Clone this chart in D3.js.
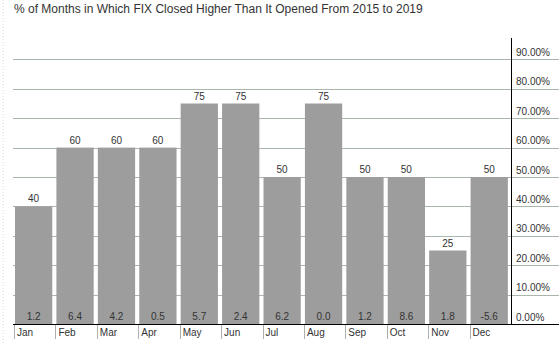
<!DOCTYPE html>
<html>
<head>
<meta charset="utf-8">
<script src="https://cdn.jsdelivr.net/npm/d3@7"></script>
<style>
  body { margin: 0; background: #fff; }
  text { font-family: "Liberation Sans", Arial, sans-serif; fill: #333; }
</style>
</head>
<body>
<script>
var w = 559
var h = 343

var months = ["Jan", "Feb", "Mar", "Apr", "May", "Jun", "Jul", "Aug", "Sep", "Oct", "Nov", "Dec"]
var pctUp = [40, 60, 60, 60, 75, 75, 50, 75, 50, 50, 25, 50]
var avgChange = ["1.2", "6.4", "4.2", "0.5", "5.7", "2.4", "6.2", "0.0", "1.2", "8.6", "1.8", "-5.6"]
var yTicks = [0, 10, 20, 30, 40, 50, 60, 70, 80, 90]

var left = 14, right = 511, base = 324

var x = d3.scaleBand()
  .domain(months)
  .range([left, right])
  .paddingInner(0)

var y = d3.scaleLinear()
  .domain([0, 100])
  .range([base, 30])

var svg = d3.select("body")
  .append("svg")
  .attr("width", w)
  .attr("height", h)

// faint dotted border on the left
svg.append("line")
  .attr("x1", 3).attr("x2", 3)
  .attr("y1", 0).attr("y2", h)
  .attr("stroke", "#e2cfe2")
  .attr("stroke-dasharray", "1,2")

svg.append("text")
  .attr("x", 14)
  .attr("y", 13)
  .style("font-size", "12px")
  .text("% of Months in Which FIX Closed Higher Than It Opened From 2015 to 2019")

// gridlines
svg.selectAll(".grid")
  .data(yTicks.slice(1))
  .enter().append("line")
  .attr("class", "grid")
  .attr("x1", left - 1)
  .attr("x2", w)
  .attr("y1", d => Math.round(y(d)) + 0.5)
  .attr("y2", d => Math.round(y(d)) + 0.5)
  .attr("stroke", "#aab6aa")

// bars
svg.selectAll(".bar")
  .data(months)
  .enter().append("rect")
  .attr("class", "bar")
  .attr("x", d => x(d) + 1)
  .attr("width", x.bandwidth() * 0.9)
  .attr("y", (d, i) => y(pctUp[i]))
  .attr("height", (d, i) => base - y(pctUp[i]))
  .attr("fill", "#9d9d9d")

svg.selectAll(".top")
  .data(months)
  .enter().append("text")
  .attr("x", d => x(d) + 1 + x.bandwidth() * 0.45)
  .attr("y", (d, i) => y(pctUp[i]) - 4)
  .attr("text-anchor", "middle")
  .style("font-size", "10px")
  .text((d, i) => pctUp[i])

svg.selectAll(".bottom")
  .data(months)
  .enter().append("text")
  .attr("x", d => x(d) + 1 + x.bandwidth() * 0.45)
  .attr("y", base - 4)
  .attr("text-anchor", "middle")
  .style("font-size", "10px")
  .text((d, i) => avgChange[i])

// right axis
svg.append("line")
  .attr("x1", right + 0.5).attr("x2", right + 0.5)
  .attr("y1", 38).attr("y2", base)
  .attr("stroke", "#000")

svg.selectAll(".ylab")
  .data(yTicks)
  .enter().append("text")
  .attr("x", right + 5)
  .attr("y", d => y(d) - 3.5)
  .style("font-size", "10px")
  .text(d => d3.format(".2f")(d) + "%")

// baseline
svg.append("line")
  .attr("x1", left - 1).attr("x2", w)
  .attr("y1", base + 0.5).attr("y2", base + 0.5)
  .attr("stroke", "#000")

// month separators and labels
svg.selectAll(".sep")
  .data(months)
  .enter().append("line")
  .attr("x1", d => Math.round(x(d)) + 0.5)
  .attr("x2", d => Math.round(x(d)) + 0.5)
  .attr("y1", base + 1)
  .attr("y2", base + 15)
  .attr("stroke", "#b0b0b0")

svg.selectAll(".mlab")
  .data(months)
  .enter().append("text")
  .attr("x", d => x(d) + 3)
  .attr("y", base + 12)
  .style("font-size", "10px")
  .text(d => d)
</script>
</body>
</html>
